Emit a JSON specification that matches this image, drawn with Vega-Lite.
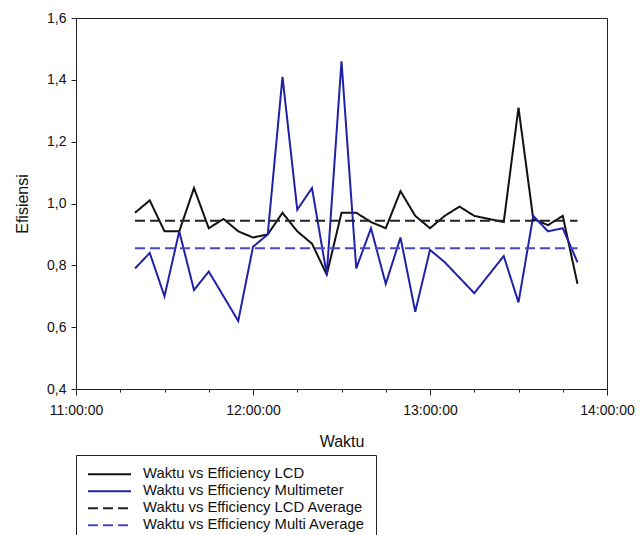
{
  "$schema": "https://vega.github.io/schema/vega-lite/v6.json",
  "width": 531,
  "height": 371,
  "autosize": {"type": "none"},
  "padding": {"left": 76, "top": 18, "right": 35, "bottom": 146},
  "config": {
    "font": "Liberation Sans",
    "view": {"stroke": "#222222", "strokeWidth": 1},
    "axis": {"grid": false, "domainColor": "#222222", "tickColor": "#222222", "labelColor": "#111111", "titleColor": "#111111", "labelFont": "Liberation Sans", "titleFont": "Liberation Sans", "titleFontWeight": "normal"}
  },
  "data": {"values": [
    {"t": "2024-01-01T11:20:00", "v": 0.97, "s": "Waktu vs Efficiency LCD"},
    {"t": "2024-01-01T11:25:00", "v": 1.01, "s": "Waktu vs Efficiency LCD"},
    {"t": "2024-01-01T11:30:00", "v": 0.91, "s": "Waktu vs Efficiency LCD"},
    {"t": "2024-01-01T11:35:00", "v": 0.91, "s": "Waktu vs Efficiency LCD"},
    {"t": "2024-01-01T11:40:00", "v": 1.05, "s": "Waktu vs Efficiency LCD"},
    {"t": "2024-01-01T11:45:00", "v": 0.92, "s": "Waktu vs Efficiency LCD"},
    {"t": "2024-01-01T11:50:00", "v": 0.95, "s": "Waktu vs Efficiency LCD"},
    {"t": "2024-01-01T11:55:00", "v": 0.91, "s": "Waktu vs Efficiency LCD"},
    {"t": "2024-01-01T12:00:00", "v": 0.89, "s": "Waktu vs Efficiency LCD"},
    {"t": "2024-01-01T12:05:00", "v": 0.90, "s": "Waktu vs Efficiency LCD"},
    {"t": "2024-01-01T12:10:00", "v": 0.97, "s": "Waktu vs Efficiency LCD"},
    {"t": "2024-01-01T12:15:00", "v": 0.91, "s": "Waktu vs Efficiency LCD"},
    {"t": "2024-01-01T12:20:00", "v": 0.87, "s": "Waktu vs Efficiency LCD"},
    {"t": "2024-01-01T12:25:00", "v": 0.77, "s": "Waktu vs Efficiency LCD"},
    {"t": "2024-01-01T12:30:00", "v": 0.97, "s": "Waktu vs Efficiency LCD"},
    {"t": "2024-01-01T12:35:00", "v": 0.97, "s": "Waktu vs Efficiency LCD"},
    {"t": "2024-01-01T12:40:00", "v": 0.94, "s": "Waktu vs Efficiency LCD"},
    {"t": "2024-01-01T12:45:00", "v": 0.92, "s": "Waktu vs Efficiency LCD"},
    {"t": "2024-01-01T12:50:00", "v": 1.04, "s": "Waktu vs Efficiency LCD"},
    {"t": "2024-01-01T12:55:00", "v": 0.96, "s": "Waktu vs Efficiency LCD"},
    {"t": "2024-01-01T13:00:00", "v": 0.92, "s": "Waktu vs Efficiency LCD"},
    {"t": "2024-01-01T13:05:00", "v": 0.96, "s": "Waktu vs Efficiency LCD"},
    {"t": "2024-01-01T13:10:00", "v": 0.99, "s": "Waktu vs Efficiency LCD"},
    {"t": "2024-01-01T13:15:00", "v": 0.96, "s": "Waktu vs Efficiency LCD"},
    {"t": "2024-01-01T13:20:00", "v": 0.95, "s": "Waktu vs Efficiency LCD"},
    {"t": "2024-01-01T13:25:00", "v": 0.94, "s": "Waktu vs Efficiency LCD"},
    {"t": "2024-01-01T13:30:00", "v": 1.31, "s": "Waktu vs Efficiency LCD"},
    {"t": "2024-01-01T13:35:00", "v": 0.95, "s": "Waktu vs Efficiency LCD"},
    {"t": "2024-01-01T13:40:00", "v": 0.93, "s": "Waktu vs Efficiency LCD"},
    {"t": "2024-01-01T13:45:00", "v": 0.96, "s": "Waktu vs Efficiency LCD"},
    {"t": "2024-01-01T13:50:00", "v": 0.74, "s": "Waktu vs Efficiency LCD"},
    {"t": "2024-01-01T11:20:00", "v": 0.79, "s": "Waktu vs Efficiency Multimeter"},
    {"t": "2024-01-01T11:25:00", "v": 0.84, "s": "Waktu vs Efficiency Multimeter"},
    {"t": "2024-01-01T11:30:00", "v": 0.70, "s": "Waktu vs Efficiency Multimeter"},
    {"t": "2024-01-01T11:35:00", "v": 0.91, "s": "Waktu vs Efficiency Multimeter"},
    {"t": "2024-01-01T11:40:00", "v": 0.72, "s": "Waktu vs Efficiency Multimeter"},
    {"t": "2024-01-01T11:45:00", "v": 0.78, "s": "Waktu vs Efficiency Multimeter"},
    {"t": "2024-01-01T11:50:00", "v": 0.70, "s": "Waktu vs Efficiency Multimeter"},
    {"t": "2024-01-01T11:55:00", "v": 0.62, "s": "Waktu vs Efficiency Multimeter"},
    {"t": "2024-01-01T12:00:00", "v": 0.86, "s": "Waktu vs Efficiency Multimeter"},
    {"t": "2024-01-01T12:05:00", "v": 0.90, "s": "Waktu vs Efficiency Multimeter"},
    {"t": "2024-01-01T12:10:00", "v": 1.41, "s": "Waktu vs Efficiency Multimeter"},
    {"t": "2024-01-01T12:15:00", "v": 0.98, "s": "Waktu vs Efficiency Multimeter"},
    {"t": "2024-01-01T12:20:00", "v": 1.05, "s": "Waktu vs Efficiency Multimeter"},
    {"t": "2024-01-01T12:25:00", "v": 0.77, "s": "Waktu vs Efficiency Multimeter"},
    {"t": "2024-01-01T12:30:00", "v": 1.46, "s": "Waktu vs Efficiency Multimeter"},
    {"t": "2024-01-01T12:35:00", "v": 0.79, "s": "Waktu vs Efficiency Multimeter"},
    {"t": "2024-01-01T12:40:00", "v": 0.92, "s": "Waktu vs Efficiency Multimeter"},
    {"t": "2024-01-01T12:45:00", "v": 0.74, "s": "Waktu vs Efficiency Multimeter"},
    {"t": "2024-01-01T12:50:00", "v": 0.89, "s": "Waktu vs Efficiency Multimeter"},
    {"t": "2024-01-01T12:55:00", "v": 0.65, "s": "Waktu vs Efficiency Multimeter"},
    {"t": "2024-01-01T13:00:00", "v": 0.85, "s": "Waktu vs Efficiency Multimeter"},
    {"t": "2024-01-01T13:05:00", "v": 0.81, "s": "Waktu vs Efficiency Multimeter"},
    {"t": "2024-01-01T13:10:00", "v": 0.76, "s": "Waktu vs Efficiency Multimeter"},
    {"t": "2024-01-01T13:15:00", "v": 0.71, "s": "Waktu vs Efficiency Multimeter"},
    {"t": "2024-01-01T13:20:00", "v": 0.77, "s": "Waktu vs Efficiency Multimeter"},
    {"t": "2024-01-01T13:25:00", "v": 0.83, "s": "Waktu vs Efficiency Multimeter"},
    {"t": "2024-01-01T13:30:00", "v": 0.68, "s": "Waktu vs Efficiency Multimeter"},
    {"t": "2024-01-01T13:35:00", "v": 0.96, "s": "Waktu vs Efficiency Multimeter"},
    {"t": "2024-01-01T13:40:00", "v": 0.91, "s": "Waktu vs Efficiency Multimeter"},
    {"t": "2024-01-01T13:45:00", "v": 0.92, "s": "Waktu vs Efficiency Multimeter"},
    {"t": "2024-01-01T13:50:00", "v": 0.81, "s": "Waktu vs Efficiency Multimeter"},
    {"t": "2024-01-01T11:20:00", "v": 0.944, "s": "Waktu vs Efficiency LCD Average"},
    {"t": "2024-01-01T13:50:00", "v": 0.944, "s": "Waktu vs Efficiency LCD Average"},
    {"t": "2024-01-01T11:20:00", "v": 0.855, "s": "Waktu vs Efficiency Multi Average"},
    {"t": "2024-01-01T13:50:00", "v": 0.855, "s": "Waktu vs Efficiency Multi Average"}
  ]},
  "mark": {"type": "line", "strokeWidth": 2},
  "encoding": {
    "x": {
      "field": "t", "type": "temporal", "title": "Waktu",
      "scale": {"domain": [{"year": 2024, "month": 1, "date": 1, "hours": 11}, {"year": 2024, "month": 1, "date": 1, "hours": 14}]},
      "axis": {
        "values": [
          {"year": 2024, "month": 1, "date": 1, "hours": 11, "minutes": 0},
          {"year": 2024, "month": 1, "date": 1, "hours": 11, "minutes": 15},
          {"year": 2024, "month": 1, "date": 1, "hours": 11, "minutes": 30},
          {"year": 2024, "month": 1, "date": 1, "hours": 11, "minutes": 45},
          {"year": 2024, "month": 1, "date": 1, "hours": 12, "minutes": 0},
          {"year": 2024, "month": 1, "date": 1, "hours": 12, "minutes": 15},
          {"year": 2024, "month": 1, "date": 1, "hours": 12, "minutes": 30},
          {"year": 2024, "month": 1, "date": 1, "hours": 12, "minutes": 45},
          {"year": 2024, "month": 1, "date": 1, "hours": 13, "minutes": 0},
          {"year": 2024, "month": 1, "date": 1, "hours": 13, "minutes": 15},
          {"year": 2024, "month": 1, "date": 1, "hours": 13, "minutes": 30},
          {"year": 2024, "month": 1, "date": 1, "hours": 13, "minutes": 45},
          {"year": 2024, "month": 1, "date": 1, "hours": 14, "minutes": 0}
        ],
        "labelExpr": "minutes(datum.value) == 0 ? timeFormat(datum.value, '%H:%M:%S') : ''",
        "labelFontSize": 14, "labelPadding": 8, "labelFlush": false, "labelOverlap": false,
        "tickSize": {"condition": {"test": "minutes(datum.value) == 0", "value": 6}, "value": 3},
        "titleFontSize": 16, "titlePadding": 16
      }
    },
    "y": {
      "field": "v", "type": "quantitative", "title": "Efisiensi",
      "scale": {"domain": [0.4, 1.6], "nice": false, "zero": false},
      "axis": {
        "values": [0.4, 0.6, 0.8, 1.0, 1.2, 1.4, 1.6],
        "labelExpr": "replace(format(datum.value, '.1f'), '.', ',')",
        "labelFontSize": 14, "labelPadding": 5, "tickSize": 5,
        "titleFontSize": 16, "titlePadding": 16
      }
    },
    "color": {
      "field": "s", "type": "nominal",
      "scale": {
        "domain": ["Waktu vs Efficiency LCD", "Waktu vs Efficiency Multimeter", "Waktu vs Efficiency LCD Average", "Waktu vs Efficiency Multi Average"],
        "range": ["#111111", "#2020a8", "#222222", "#4848c0"]
      },
      "legend": {
        "title": null, "orient": "none", "legendX": 0, "legendY": 437,
        "strokeColor": "#222222", "padding": 11, "symbolType": "stroke",
        "symbolSize": 1849, "symbolStrokeWidth": 2, "labelFontSize": 14.8,
        "labelFont": "Liberation Sans", "labelColor": "#111111", "rowPadding": 0, "clipHeight": 16.5,
        "labelOffset": 11, "labelLimit": 400
      }
    },
    "strokeDash": {
      "field": "s", "type": "nominal",
      "scale": {
        "domain": ["Waktu vs Efficiency LCD", "Waktu vs Efficiency Multimeter", "Waktu vs Efficiency LCD Average", "Waktu vs Efficiency Multi Average"],
        "range": [[1, 0], [1, 0], [10, 5], [10, 5]]
      },
      "legend": null
    }
  }
}
